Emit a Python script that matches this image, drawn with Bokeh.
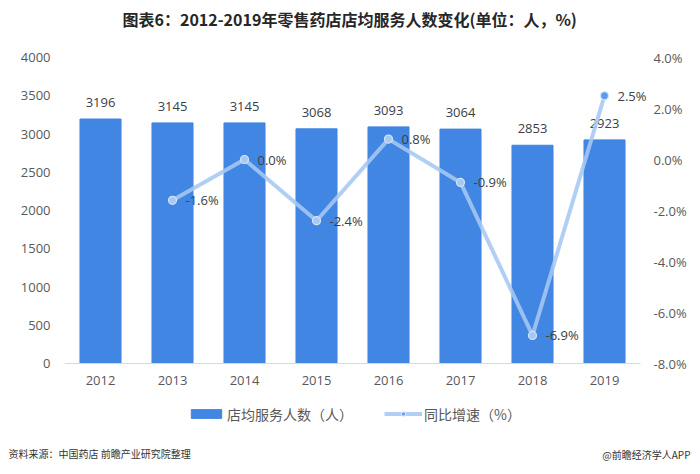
from bokeh.plotting import figure
from bokeh.models import (Range1d, LinearAxis, FixedTicker, CustomJSTickFormatter,
                          Legend, LegendItem, ColumnDataSource, Title)
from bokeh.core.properties import value
from bokeh.embed import file_html
from bokeh.resources import INLINE

years = ["2012", "2013", "2014", "2015", "2016", "2017", "2018", "2019"]
service_people = [3196, 3145, 3145, 3068, 3093, 3064, 2853, 2923]
growth_years = ["2013", "2014", "2015", "2016", "2017", "2018", "2019"]
growth_pct = [-1.6, 0.0, -2.4, 0.8, -0.9, -6.9, 2.5]
left_ticks = [0, 500, 1000, 1500, 2000, 2500, 3000, 3500, 4000]
right_ticks = [-8, -6, -4, -2, 0, 2, 4]

title_text = "图表6：2012-2019年零售药店店均服务人数变化(单位：人，%)"
bar_name = "店均服务人数（人）"
line_name = "同比增速（%）"
source_text = "资料来源：中国药店 前瞻产业研究院整理"
brand_text = "@前瞻经济学人APP"

FONT = "Open Sans"
CJK = "Noto Sans CJK SC"
BAR_COLOR = "#4186e2"
LINE_COLOR = "#a6c8f4"
MARK_COLOR = "#5c9cef"
GREY = "#595959"

# ---- geometry (pixels) ----
W, H = 700, 474
FRAME_L, FRAME_R, FRAME_T, FRAME_B = 64, 652, 35, 454
AXIS_TOP_PX, AXIS_ZERO_PX = 57, 363          # where 4000 / 0 sit
L_MIN, L_MAX = left_ticks[0], left_ticks[-1]
R_MIN, R_MAX = right_ticks[0], right_ticks[-1]
span_px = AXIS_ZERO_PX - AXIS_TOP_PX
lk = (L_MAX - L_MIN) / span_px
rk = (R_MAX - R_MIN) / span_px
left_range = Range1d(L_MIN - (FRAME_B - AXIS_ZERO_PX) * lk,
                     L_MAX + (AXIS_TOP_PX - FRAME_T) * lk)
right_range = Range1d(R_MIN - (FRAME_B - AXIS_ZERO_PX) * rk,
                      R_MAX + (AXIS_TOP_PX - FRAME_T) * rk)

xpos = {y: i for i, y in enumerate(years)}
n = len(years)
x_end = n - 0.5 + 12 / 72.0

p = figure(width=W, height=H, x_range=Range1d(-0.5, x_end), y_range=left_range,
           output_backend="svg", toolbar_location=None,
           min_border_left=FRAME_L, min_border_right=W - FRAME_R,
           min_border_top=FRAME_T, min_border_bottom=H - FRAME_B)
p.outline_line_color = None
p.xgrid.grid_line_color = None
p.ygrid.grid_line_color = None
p.extra_y_ranges = {"pct": right_range}

bar_src = ColumnDataSource(dict(x=[xpos[y] for y in years], y=service_people,
                                lbl=[str(v) for v in service_people]))
bars = p.vbar(x="x", top="y", bottom=0, width=0.57, source=bar_src, color=BAR_COLOR)
p.text(x="x", y="y", text="lbl", source=bar_src, text_align="center",
       text_baseline="bottom", y_offset=-12, text_font=value(FONT),
       text_font_size="13px", text_color="#404040")

marker_colors = [LINE_COLOR] * (len(growth_pct) - 1) + [MARK_COLOR]
line_src = ColumnDataSource(dict(x=[xpos[y] for y in growth_years], y=growth_pct,
                                 lbl=["%.1f%%" % v for v in growth_pct],
                                 c=marker_colors))
ln = p.line(x="x", y="y", source=line_src, y_range_name="pct",
            line_color=LINE_COLOR, line_width=4, line_alpha=0.88)
pts = p.scatter(x="x", y="y", source=line_src, y_range_name="pct", size=8,
                fill_color="c", line_color="#d4e4f9", line_width=1.2)
p.text(x="x", y="y", text="lbl", source=line_src, y_range_name="pct",
       x_offset=13, text_baseline="middle", text_font=value(FONT),
       text_font_size="13px", text_color="#404040")

# ---- x axis, drawn at value 0 ----
xa = p.xaxis[0]
xa.ticker = FixedTicker(ticks=list(range(n)))
xa.major_label_overrides = {i: y for i, y in enumerate(years)}
xa.bounds = (-0.5, n - 0.5)
xa.fixed_location = 0
xa.axis_line_color = "#d9d9d9"
xa.major_tick_line_color = None
xa.minor_tick_line_color = None
xa.major_tick_out = 0
xa.major_tick_in = 0
xa.minor_tick_out = 0
xa.major_label_text_font = FONT
xa.major_label_text_font_size = "13px"
xa.major_label_text_color = GREY
xa.major_label_standoff = 12

ya = p.yaxis[0]
ya.ticker = FixedTicker(ticks=left_ticks)
ya.axis_line_color = None
ya.major_tick_line_color = None
ya.minor_tick_line_color = None
ya.major_tick_out = 0
ya.minor_tick_out = 0
ya.major_label_text_font = FONT
ya.major_label_text_font_size = "13px"
ya.major_label_text_color = GREY
ya.major_label_standoff = 14

ra = LinearAxis(y_range_name="pct", ticker=FixedTicker(ticks=right_ticks),
                formatter=CustomJSTickFormatter(code="return tick.toFixed(1) + '%';"))
ra.axis_line_color = None
ra.major_tick_line_color = None
ra.minor_tick_line_color = None
ra.major_tick_out = 0
ra.minor_tick_out = 0
ra.major_label_text_font = FONT
ra.major_label_text_font_size = "13px"
ra.major_label_text_color = GREY
ra.major_label_standoff = 1
p.add_layout(ra, "right")

# ---- title ----
p.title.text = title_text
p.title.align = "left"
p.title.offset = 58
p.title.vertical_align = "top"
p.title.standoff = 4.6
p.title.text_font = CJK
p.title.text_font_style = "bold"
p.title.text_font_size = "16px"
p.title.text_color = "#262626"

# ---- legend (inside the frame, under the axis labels) ----
legend = Legend(items=[LegendItem(label=bar_name, renderers=[bars]),
                       LegendItem(label=line_name, renderers=[ln, pts],
                                  index=len(growth_pct) - 1)],
                orientation="horizontal", location=(123, 30.5))
legend.border_line_color = None
legend.background_fill_alpha = 0
legend.margin = 0
legend.padding = 0
legend.spacing = 31
legend.glyph_width = 38
legend.glyph_height = 11
legend.label_standoff = 2
legend.label_height = 11
legend.label_text_font = CJK
legend.label_text_font_size = "14px"
legend.label_text_color = GREY
p.add_layout(legend, "center")

# ---- footer ----
foot_left = Title(text=source_text, align="left", offset=-(FRAME_L - 8),
                  vertical_align="top", standoff=-16.5,
                  text_font=CJK, text_font_size="10px", text_color="#333333",
                  text_font_style="normal")
foot_right = Title(text=brand_text, align="right", offset=-(690 - FRAME_R),
                   vertical_align="top", standoff=-16.5,
                   text_font=CJK, text_font_size="10px", text_color="#333333",
                   text_font_style="normal")
p.add_layout(foot_left, "below")
p.add_layout(foot_right, "below")

open("out.html", "w").write(file_html(p, INLINE))
